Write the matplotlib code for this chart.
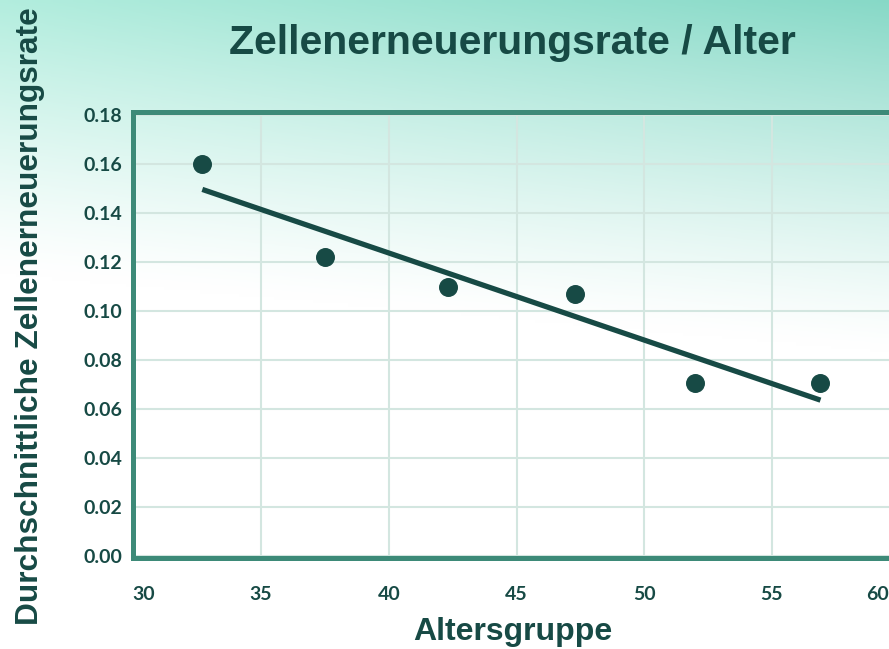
import matplotlib.pyplot as plt
import numpy as np
from matplotlib.transforms import ScaledTranslation

# data
alter = np.array([32.7, 37.5, 42.3, 47.3, 52.0, 56.9])
rate = np.array([0.160, 0.122, 0.110, 0.107, 0.0706, 0.0706])
x_ticks = [30, 35, 40, 45, 50, 55, 60]
y_ticks = [0.00, 0.02, 0.04, 0.06, 0.08, 0.10, 0.12, 0.14, 0.16, 0.18]

dark = '#174a45'
spine_c = '#3d8a78'
grid_c = '#d3e6e0'

fig = plt.figure(figsize=(8.89, 6.49), dpi=100)

# background gradient: mint at top (stronger to the right) fading to white
h, w = 200, 300
yy, xx = np.mgrid[0:1:h*1j, 0:1:w*1j]
strength = np.clip(1 - yy / (0.42 + 0.12 * xx), 0, 1) ** 1.2
top = np.array([0.70, 0.93, 0.87]) * (1 - xx[..., None]) + np.array([0.53, 0.85, 0.78]) * xx[..., None]
img = 1 - strength[..., None] * (1 - top)
bg = fig.add_axes([0, 0, 1, 1], zorder=-1)
bg.imshow(img, aspect='auto', extent=[0, 1, 0, 1], origin='upper')
bg.axis('off')

ax = fig.add_axes([0.150, 0.140, 0.862, 0.688])
ax.patch.set_alpha(0)

ax.scatter(alter, rate, s=160, color=dark, zorder=3)
k, d = np.polyfit(alter, rate, 1)
ax.plot(alter, k * alter + d, color=dark, lw=3.8, solid_capstyle='butt', zorder=2)

ax.set_xlim(30, 60)
ax.set_ylim(-0.001, 0.1815)
ax.set_xticks(x_ticks)
ax.set_yticks(y_ticks)
ax.set_yticklabels([f'{v:.2f}' for v in y_ticks])
ax.tick_params(length=0, labelsize=14, labelcolor=dark, pad=8)
ax.tick_params(axis='x', pad=20)
for lab in ax.get_xticklabels() + ax.get_yticklabels():
    lab.set_fontweight('bold')
    lab.set_family('Lato')
# the last x label sits at the figure edge; nudge it in like the reference
last = ax.get_xticklabels()[-1]
last.set_transform(last.get_transform() + ScaledTranslation(-0.22, 0, fig.dpi_scale_trans))
first = ax.get_xticklabels()[0]
first.set_transform(first.get_transform() + ScaledTranslation(0.1, 0, fig.dpi_scale_trans))

ax.grid(True, color=grid_c, lw=1.5)
ax.set_axisbelow(True)
for s in ['left', 'top', 'bottom']:
    ax.spines[s].set_color(spine_c)
    ax.spines[s].set_linewidth(3.6)
ax.spines['right'].set_visible(False)

fig.text(0.576, 0.933, 'Zellenerneuerungsrate / Alter', ha='center', va='center',
         fontsize=29.5, fontweight='bold', color=dark, family='Liberation Sans')
fig.text(0.577, 0.026, 'Altersgruppe', ha='center', va='center',
         fontsize=23, fontweight='bold', color=dark, family='Liberation Sans')
fig.text(0.034, 0.513, 'Durchschnittliche Zellenerneuerungsrate', ha='center', va='center',
         rotation=90, fontsize=22.8, fontweight='bold', color=dark, family='Liberation Sans')

fig.savefig('out.png', dpi=100)
